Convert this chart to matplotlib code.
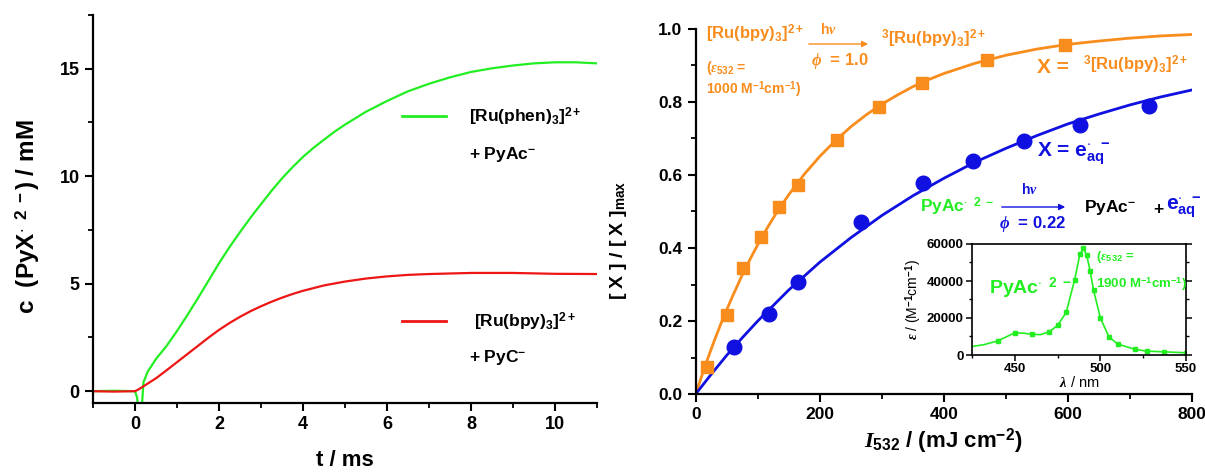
import numpy as np
import matplotlib
matplotlib.use("Agg")
import matplotlib.pyplot as plt
from matplotlib.ticker import MultipleLocator

plt.rcParams['font.family'] = ['Liberation Sans', 'DejaVu Sans']
plt.rcParams['font.weight'] = 'bold'
plt.rcParams['mathtext.fontset'] = 'custom'
plt.rcParams['mathtext.rm'] = 'Liberation Sans:bold'
plt.rcParams['mathtext.bf'] = 'Liberation Sans:bold'
plt.rcParams['mathtext.sf'] = 'Liberation Sans:bold'
plt.rcParams['mathtext.it'] = 'Liberation Serif:italic'
plt.rcParams['axes.linewidth'] = 1.6

# left panel: growth of PyX.2-
t_phen = [-1, -0.5, 0, 0.05, 0.1, 0.15, 0.2, 0.3, 0.5, 0.75, 1.0, 1.25, 1.5, 1.75, 2.0, 2.25, 2.5, 2.75,
          3.0, 3.25, 3.5, 3.75, 4.0, 4.25, 4.5, 4.75, 5.0, 5.5, 6.0, 6.5, 7.0, 7.5, 8.0, 8.5, 9.0, 9.5,
          10.0, 10.5, 11.0]
c_phen = [0.0, 0.02, 0.0, -0.3, -1.5, -1.2, 0.4, 0.9, 1.5, 2.1, 2.8, 3.55, 4.33, 5.14, 5.95, 6.7, 7.4, 8.07,
          8.7, 9.32, 9.9, 10.42, 10.9, 11.32, 11.7, 12.07, 12.4, 13.0, 13.5, 13.95, 14.3, 14.6, 14.85, 15.02,
          15.15, 15.25, 15.3, 15.3, 15.25]
t_bpy = [-1, -0.5, 0, 0.1, 0.5, 0.75, 1.0, 1.25, 1.5, 1.75, 2.0, 2.25, 2.5, 2.75, 3.0, 3.25, 3.5, 3.75,
         4.0, 4.5, 5.0, 5.5, 6.0, 6.5, 7.0, 8.0, 9.0, 10.0, 11.0]
c_bpy = [0.0, -0.02, 0.0, 0.1, 0.6, 0.97, 1.35, 1.73, 2.11, 2.49, 2.85, 3.17, 3.46, 3.72, 3.95, 4.16, 4.35, 4.52,
         4.67, 4.92, 5.1, 5.24, 5.34, 5.41, 5.45, 5.5, 5.5, 5.46, 5.45]

# right panel: relative yields vs laser intensity
I_ru = [18, 50, 77, 105, 134, 165, 228, 295, 364, 470, 596]
y_ru = [0.075, 0.216, 0.344, 0.431, 0.513, 0.573, 0.696, 0.787, 0.853, 0.915, 0.956]
I_e = [61, 118, 165, 266, 366, 447, 529, 619, 731]
y_e = [0.128, 0.218, 0.307, 0.472, 0.579, 0.639, 0.694, 0.737, 0.789]

# fitted curves as drawn
I_fit_ru = [0, 10, 20, 30, 40, 50, 60, 75, 90, 100, 115, 130, 150, 175, 200, 225, 250, 275, 300, 325,
            350, 375, 400, 450, 500, 550, 600, 650, 700, 750, 800]
y_fit_ru = [0, 0.051, 0.100, 0.146, 0.190, 0.231, 0.270, 0.326, 0.377, 0.409, 0.454, 0.496, 0.546, 0.602,
            0.651, 0.694, 0.732, 0.765, 0.794, 0.819, 0.842, 0.861, 0.878, 0.906, 0.928, 0.945, 0.958, 0.967,
            0.975, 0.981, 0.985]
I_fit_e = [0, 25, 50, 75, 100, 150, 200, 250, 300, 350, 400, 450, 500, 550, 600, 650, 700, 750, 800]
y_fit_e = [0, 0.054, 0.106, 0.154, 0.200, 0.285, 0.361, 0.428, 0.489, 0.543, 0.591, 0.635, 0.673, 0.708,
           0.740, 0.767, 0.792, 0.814, 0.833]

# inset: absorption spectrum of PyAc.2-
lam_pts = [440, 450, 460, 470, 475, 480, 485, 488, 490, 492, 494, 496, 500, 505, 510, 520, 527, 537, 550]
eps_pts = [7600, 12000, 11200, 12500, 16000, 23000, 40800, 54400, 57700, 54000, 45400, 35000, 20000,
           9800, 6000, 3100, 2100, 1700, 1200]
lam_line = [425, 432, 440, 445, 450, 455, 460, 465, 470, 475, 480, 485, 488, 490, 492, 494, 496, 500,
            505, 510, 520, 527, 537, 550]
eps_line = [4600, 5600, 7600, 9800, 12000, 11800, 11200, 11000, 12500, 16000, 23000, 40800, 54400,
            57700, 54000, 45400, 35000, 20000, 9800, 6000, 3100, 2100, 1700, 1200]

green = '#22EE22'
red = '#EE1515'
orange = '#F88C1C'
blue = '#1010E0'

W, H = 1205, 473
fig = plt.figure(figsize=(W / 100, H / 100), dpi=100)


def px(x, y):
    return x / W, 1 - y / H


def style(ax, size, major, minor):
    ax.tick_params(which='major', direction='out', length=major, width=1.5, labelsize=size)
    ax.tick_params(which='minor', direction='out', length=minor, width=1.3)


# ---- left panel
ax1 = fig.add_axes([93 / W, 1 - 403 / H, 504 / W, 388 / H])
ax1.plot(t_phen, c_phen, color=green, lw=1.6)
ax1.plot(t_bpy, c_bpy, color=red, lw=1.6)
ax1.set_xlim(-1, 11)
ax1.set_ylim(-0.55, 17.5)
ax1.spines['top'].set_visible(False)
ax1.spines['right'].set_visible(False)
ax1.xaxis.set_major_locator(MultipleLocator(2))
ax1.xaxis.set_minor_locator(MultipleLocator(1))
ax1.yaxis.set_major_locator(MultipleLocator(5))
ax1.yaxis.set_minor_locator(MultipleLocator(2.5))
ax1.set_yticks([0, 5, 10, 15])
style(ax1, 13, 6, 3.5)
fig.text(*px(345, 460), 't / ms', ha='center', va='center', fontsize=16)
fig.text(*px(28, 217), r'c  (PyX$^{\cdot\ \ 2\ -}$) / mM', rotation=90, ha='center', va='center', fontsize=17.5)

# legend samples
fig.add_artist(plt.Line2D([402 / W, 446 / W], [1 - 116 / H] * 2, color=green, lw=2))
fig.add_artist(plt.Line2D([402 / W, 446 / W], [1 - 321 / H] * 2, color=red, lw=2))
fig.text(*px(469, 117), r'[Ru(phen)$_3$]$^{2+}$', ha='left', va='center', fontsize=12.5)
fig.text(*px(469, 155), r'+ PyAc$^{-}$', ha='left', va='center', fontsize=12.5)
fig.text(*px(474, 322), r'[Ru(bpy)$_3$]$^{2+}$', ha='left', va='center', fontsize=12.5)
fig.text(*px(469, 357), r'+ PyC$^{-}$', ha='left', va='center', fontsize=12.5)

# ---- right panel
ax2 = fig.add_axes([695.7 / W, 1 - 394 / H, 496.3 / W, 365 / H])
ax2.plot(I_fit_ru, y_fit_ru, color=orange, lw=2)
ax2.plot(I_fit_e, y_fit_e, color=blue, lw=2)
ax2.plot(I_ru, y_ru, 's', color=orange, ms=8.5, clip_on=False)
ax2.plot(I_e, y_e, 'o', color=blue, ms=10.5, clip_on=False)
ax2.set_xlim(0, 800)
ax2.set_ylim(0, 1.0)
ax2.spines['top'].set_visible(False)
ax2.spines['right'].set_visible(False)
ax2.xaxis.set_major_locator(MultipleLocator(200))
ax2.xaxis.set_minor_locator(MultipleLocator(100))
ax2.yaxis.set_major_locator(MultipleLocator(0.2))
ax2.yaxis.set_minor_locator(MultipleLocator(0.1))
ax2.yaxis.set_major_formatter(matplotlib.ticker.FormatStrFormatter('%.1f'))
style(ax2, 12.5, 6, 3.5)
fig.text(*px(943, 441), r'$\mathit{I}_{532}$ / (mJ cm$^{-2}$)', ha='center', va='center', fontsize=16)
fig.text(*px(619, 240), r'[ X ] / [ X ]$_{\mathrm{max}}$', rotation=90, ha='center', va='center', fontsize=14)

# orange annotations
fig.text(*px(706, 34), r'[Ru(bpy)$_3$]$^{2+}$', color=orange, ha='left', va='center', fontsize=12)
fig.text(*px(706, 68), r'($\varepsilon_{532}$ =', color=orange, ha='left', va='center', fontsize=10)
fig.text(*px(706, 90), r'1000 M$^{-1}$cm$^{-1}$)', color=orange, ha='left', va='center', fontsize=10)
fig.text(*px(820, 30), r'h$\nu$', color=orange, ha='left', va='center', fontsize=10)
fig.text(*px(811, 61), r'$\phi$  = 1.0', color=orange, ha='left', va='center', fontsize=12)
fig.text(*px(881, 39), r'$^3$[Ru(bpy)$_3$]$^{2+}$', color=orange, ha='left', va='center', fontsize=12)
fig.text(*px(1037, 67), 'X = ', color=orange, ha='left', va='center', fontsize=15)
fig.text(*px(1083, 65), r'$^3$[Ru(bpy)$_3$]$^{2+}$', color=orange, ha='left', va='center', fontsize=12)
fig.add_artist(matplotlib.patches.FancyArrowPatch(px(806, 44), px(871, 44), transform=fig.transFigure,
                                                   arrowstyle='-|>', mutation_scale=9, color=orange, lw=1))

# blue / green annotations
fig.text(*px(1037, 154), r'X = $\mathrm{e}^{\cdot\ \ -}_{\mathrm{aq}}$', color=blue, ha='left', va='center', fontsize=15)
fig.text(*px(920, 207), r'PyAc$^{\cdot\ \ 2\ -}$', color=green, ha='left', va='center', fontsize=12.5)
fig.text(*px(1021, 189), r'h$\nu$', color=blue, ha='left', va='center', fontsize=10)
fig.text(*px(999, 224), r'$\phi$  = 0.22', color=blue, ha='left', va='center', fontsize=12)
fig.add_artist(matplotlib.patches.FancyArrowPatch(px(999, 207), px(1068, 207), transform=fig.transFigure,
                                                   arrowstyle='-|>', mutation_scale=9, color=blue, lw=1))
fig.text(*px(1084, 207), r'PyAc$^{-}$', color='black', ha='left', va='center', fontsize=12.5)
fig.text(*px(1153, 209), '+', color='black', ha='left', va='center', fontsize=12.5)
fig.text(*px(1166, 207), r'$\mathrm{e}^{\cdot\ \ -}_{\mathrm{aq}}$', color=blue, ha='left', va='center', fontsize=15)

# ---- inset
ax3 = fig.add_axes([972 / W, 1 - 355 / H, 214 / W, 111 / H])
ax3.plot(lam_line, eps_line, color=green, lw=1.2)
ax3.plot(lam_pts, eps_pts, 's', color=green, ms=3.5)
ax3.set_xlim(425, 550)
ax3.set_ylim(0, 60000)
for s in ax3.spines.values():
    s.set_linewidth(1.2)
ax3.xaxis.set_major_locator(MultipleLocator(50))
ax3.xaxis.set_minor_locator(MultipleLocator(25))
ax3.yaxis.set_major_locator(MultipleLocator(20000))
ax3.yaxis.set_minor_locator(MultipleLocator(10000))
ax3.tick_params(which='major', direction='out', length=4, width=1.1, labelsize=9.5, pad=2)
ax3.tick_params(which='minor', direction='out', length=2.5, width=1)
ax3.tick_params(axis='y', which='both', right=True)
ax3.set_xlabel(r'$\lambda$ / nm', fontsize=10.5, labelpad=0)
ax3.set_ylabel(r'$\varepsilon$ / (M$^{-1}$cm$^{-1}$)', fontsize=10, labelpad=2)
ax3.text(0.08, 0.6, r'PyAc$^{\cdot\ \ 2\ -}$', transform=ax3.transAxes, color=green, fontsize=14, ha='left', va='center')
ax3.text(0.58, 0.88, r'($\varepsilon_{532}$ =', transform=ax3.transAxes, color=green, fontsize=9.5, ha='left', va='center')
ax3.text(0.58, 0.64, r'1900 M$^{-1}$cm$^{-1}$)', transform=ax3.transAxes, color=green, fontsize=9.5, ha='left', va='center')

fig.savefig('out.png', dpi=100)
